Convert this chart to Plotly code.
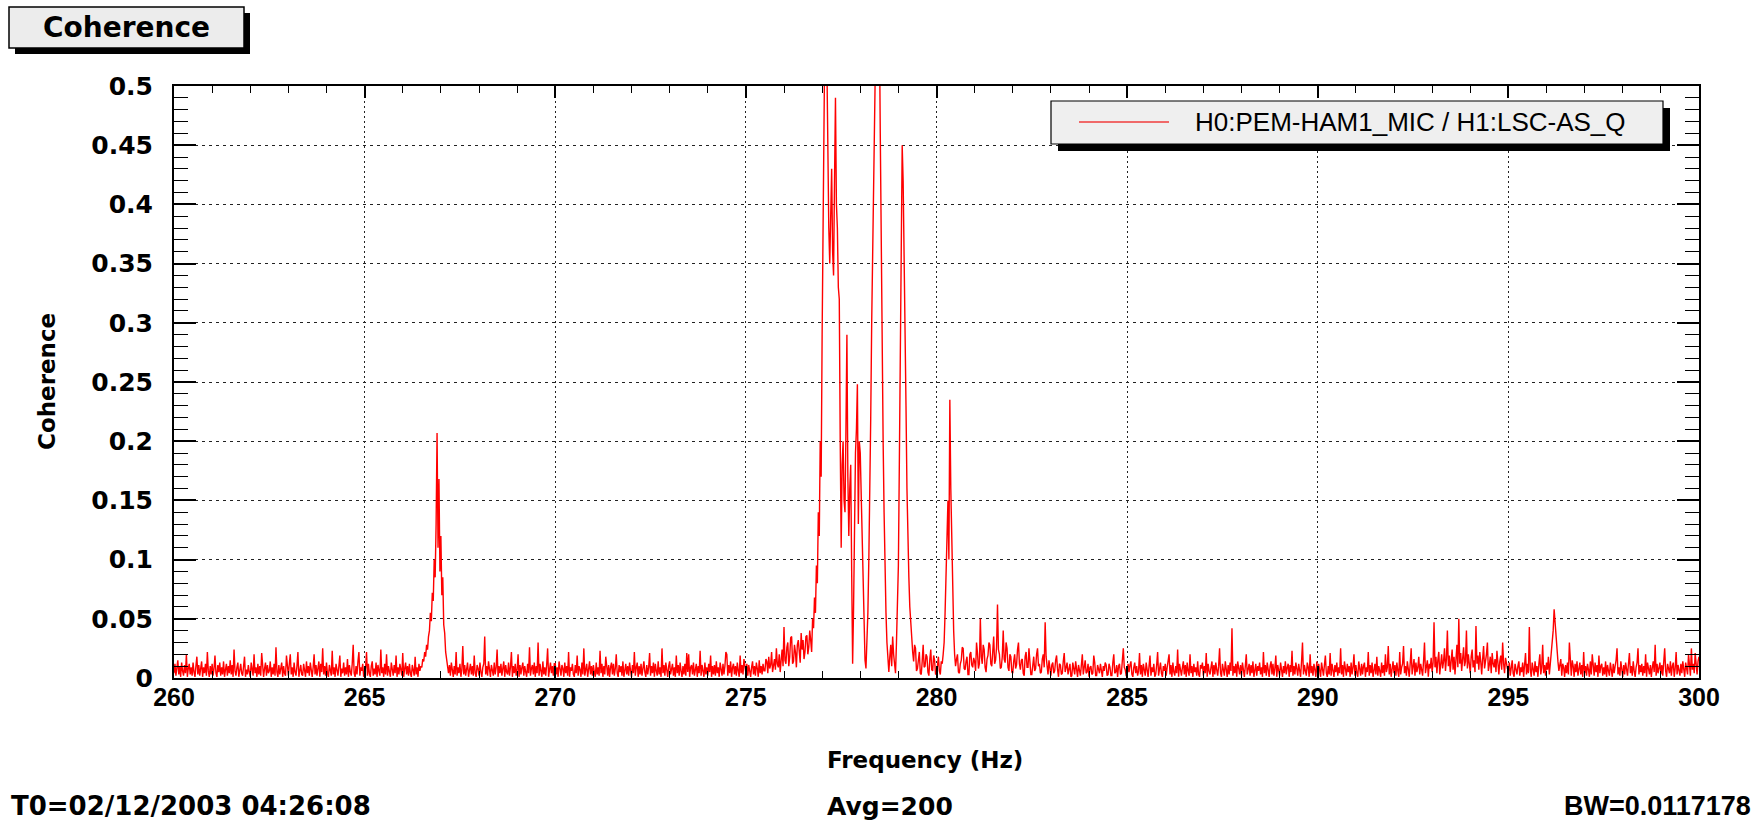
import numpy as np
import plotly.graph_objects as go

# ---- data -----------------------------------------------------------------
CHANNEL = "H0:PEM-HAM1_MIC / H1:LSC-AS_Q"
F_START = 260.0   # Hz, first frequency bin
F_STEP = 0.025    # Hz between bins

# Coherence per 5 Hz block, in units of 1e-3 (one value per 0.025 Hz bin,
# ten bins = 0.25 Hz per row)
coh_260_265 = [
    4, 12, 2, 9, 15, 3, 10, 1, 13, 6,
    2, 11, 4, 20, 1, 8, 12, 3, 9, 2,
    13, 5, 1, 10, 18, 3, 11, 2, 7, 14,
    1, 9, 4, 12, 2, 22, 6, 1, 10, 3,
    12, 2, 8, 19, 4, 1, 11, 5, 13, 2,
    9, 3, 14, 1, 7, 12, 2, 10, 4, 15,
    3, 11, 1, 24, 6, 2, 9, 13, 1, 8,
    12, 4, 2, 10, 18, 1, 7, 3, 11, 5,
    1, 13, 6, 2, 20, 4, 9, 1, 12, 3,
    10, 2, 21, 5, 1, 8, 13, 2, 11, 4,
    6, 14, 1, 9, 3, 12, 2, 26, 5, 1,
    11, 3, 8, 13, 1, 10, 4, 2, 19, 6,
    2, 12, 20, 3, 9, 1, 13, 5, 2, 10,
    22, 1, 7, 11, 3, 2, 12, 8, 1, 14,
    4, 10, 2, 13, 6, 1, 9, 20, 3, 11,
    2, 8, 14, 1, 12, 5, 25, 3, 10, 2,
    13, 4, 1, 11, 7, 2, 23, 3, 9, 1,
    12, 6, 2, 10, 19, 1, 8, 4, 13, 2,
    9, 3, 16, 1, 11, 5, 2, 12, 28, 4,
    1, 10, 3, 14, 22, 2, 9, 6, 12, 1,
]
coh_265_270 = [
    3, 9, 22, 2, 12, 4, 1, 10, 14, 2,
    8, 3, 13, 1, 11, 6, 2, 24, 4, 9,
    1, 12, 3, 20, 2, 10, 5, 1, 13, 7,
    2, 11, 4, 19, 1, 9, 3, 12, 6, 2,
    21, 1, 8, 13, 3, 10, 2, 12, 4, 1,
    11, 5, 2, 18, 3, 9, 1, 12, 6, 10,
    9, 16, 14, 22, 18, 28, 24, 35, 40, 55,
    48, 72, 65, 100, 85, 130, 207, 110, 168, 90,
    120, 70, 85, 45, 38, 22, 15, 8, 4, 11,
    2, 13, 5, 1, 10, 3, 22, 2, 9, 4,
    12, 1, 7, 27, 3, 11, 2, 9, 13, 1,
    6, 12, 3, 10, 2, 19, 4, 1, 11, 8,
    2, 13, 5, 1, 9, 12, 35, 3, 10, 2,
    14, 4, 1, 11, 6, 2, 13, 3, 9, 24,
    1, 10, 4, 12, 2, 8, 14, 1, 11, 5,
    3, 13, 2, 9, 22, 1, 10, 4, 12, 2,
    7, 20, 1, 11, 3, 9, 13, 2, 10, 5,
    1, 12, 4, 26, 2, 8, 11, 3, 13, 1,
    10, 4, 30, 2, 12, 6, 1, 14, 3, 9,
    2, 11, 25, 1, 8, 13, 4, 10, 2, 12,
]
coh_270_275 = [
    12, 3, 9, 1, 14, 5, 2, 11, 8, 1,
    13, 4, 10, 2, 22, 1, 9, 6, 12, 3,
    1, 11, 4, 19, 2, 10, 7, 1, 13, 3,
    25, 2, 9, 12, 1, 8, 14, 3, 10, 2,
    11, 5, 1, 13, 3, 9, 2, 23, 4, 12,
    1, 10, 3, 18, 6, 2, 11, 1, 9, 13,
    3, 12, 2, 8, 20, 4, 1, 11, 5, 10,
    2, 14, 1, 9, 12, 3, 10, 2, 13, 6,
    1, 11, 4, 22, 2, 9, 13, 1, 10, 3,
    12, 2, 8, 14, 5, 1, 11, 3, 9, 21,
    2, 10, 4, 13, 1, 12, 6, 2, 14, 3,
    9, 1, 25, 4, 11, 2, 13, 5, 1, 10,
    14, 3, 8, 12, 2, 9, 1, 19, 4, 11,
    2, 13, 6, 1, 10, 3, 12, 2, 21, 5,
    20, 1, 9, 11, 3, 13, 2, 8, 12, 1,
    10, 4, 23, 2, 11, 6, 1, 13, 3, 9,
    2, 12, 5, 19, 1, 10, 3, 11, 2, 14,
    4, 9, 1, 13, 7, 2, 12, 3, 10, 22,
    20, 2, 11, 4, 14, 1, 9, 12, 3, 10,
    2, 13, 6, 1, 19, 4, 11, 3, 16, 8,
]
coh_275_280 = [
    4, 12, 2, 11, 5, 1, 9, 14, 3, 10,
    2, 13, 8, 1, 15, 4, 10, 3, 12, 6,
    6, 16, 14, 4, 18, 8, 11, 22, 5, 14,
    16, 7, 25, 12, 9, 20, 5, 15, 24, 10,
    43, 15, 12, 26, 30, 10, 18, 34, 35, 12,
    14, 28, 22, 9, 28, 32, 20, 13, 38, 24,
    32, 16, 22, 35, 36, 20, 26, 40, 32, 22,
    50, 42, 68, 55, 95, 80, 140, 120, 200, 170,
    290, 450, 620, 560, 650, 520, 420, 380, 350, 410,
    430, 360, 340, 420, 490, 400, 380, 330, 320, 200,
    110, 180, 200, 150, 140, 210, 290, 170, 120, 160,
    180, 90, 12, 60, 150, 190, 210, 248, 130, 200,
    190, 150, 120, 70, 40, 15, 8, 25, 55, 100,
    150, 220, 300, 370, 440, 520, 580, 620, 640, 610,
    560, 460, 360, 280, 200, 140, 90, 55, 30, 12,
    5, 18, 28, 10, 35, 20, 12, 4, 30, 55,
    95, 180, 280, 380, 450, 420, 370, 300, 230, 160,
    110, 85, 60, 45, 30, 22, 14, 28, 25, 6,
    8, 18, 22, 4, 3, 14, 28, 9, 10, 20,
    18, 5, 2, 16, 24, 7, 6, 19, 15, 3,
]
coh_280_285 = [
    4, 10, 18, 6, 3, 14, 12, 20, 30, 55,
    90, 120, 150, 100, 235, 160, 110, 70, 40, 20,
    10, 16, 20, 5, 4, 12, 15, 26, 25, 8,
    7, 14, 18, 3, 3, 20, 22, 11, 9, 17,
    14, 6, 30, 21, 8, 12, 50, 18, 12, 28,
    24, 9, 5, 16, 19, 30, 28, 12, 10, 22,
    35, 12, 15, 26, 62, 24, 20, 8, 9, 18,
    40, 16, 13, 30, 25, 9, 6, 20, 18, 5,
    4, 14, 20, 8, 11, 24, 30, 12, 7, 15,
    16, 4, 2, 18, 22, 9, 9, 25, 14, 3,
    3, 12, 18, 6, 8, 20, 25, 10, 12, 4,
    5, 16, 20, 9, 47, 18, 10, 3, 15, 8,
    2, 11, 13, 4, 6, 15, 19, 7, 1, 12,
    11, 3, 4, 14, 21, 5, 8, 13, 3, 10,
    12, 1, 2, 13, 9, 3, 14, 6, 1, 11,
    7, 2, 11, 20, 3, 8, 15, 4, 5, 12,
    1, 9, 10, 3, 4, 19, 13, 2, 2, 11,
    8, 4, 12, 6, 1, 10, 6, 13, 11, 2,
    3, 12, 9, 2, 2, 13, 20, 4, 5, 11,
    1, 10, 12, 3, 4, 15, 25, 9, 7, 2,
]
coh_285_290 = [
    2, 12, 5, 11, 14, 3, 1, 9, 13, 4,
    10, 2, 6, 21, 3, 11, 1, 12, 7, 2,
    13, 4, 1, 10, 19, 2, 9, 5, 12, 1,
    3, 11, 22, 2, 8, 13, 4, 1, 10, 6,
    12, 2, 9, 14, 20, 3, 11, 1, 13, 5,
    2, 10, 4, 24, 1, 12, 7, 2, 9, 14,
    3, 11, 1, 13, 6, 2, 20, 4, 10, 1,
    12, 5, 9, 2, 14, 3, 1, 11, 8, 13,
    2, 10, 4, 21, 1, 12, 6, 3, 9, 14,
    1, 11, 3, 13, 7, 2, 10, 25, 4, 1,
    12, 5, 2, 14, 9, 1, 11, 3, 13, 6,
    42, 2, 10, 4, 12, 1, 14, 8, 3, 11,
    2, 13, 5, 1, 10, 20, 3, 9, 12, 2,
    11, 4, 14, 1, 8, 12, 2, 10, 6, 13,
    3, 9, 1, 22, 4, 11, 2, 13, 7, 1,
    10, 14, 3, 12, 2, 8, 19, 1, 11, 5,
    2, 13, 6, 1, 10, 4, 14, 3, 9, 12,
    1, 11, 5, 23, 2, 10, 3, 13, 8, 2,
    12, 4, 1, 14, 30, 3, 11, 6, 2, 13,
    9, 1, 20, 4, 10, 2, 12, 7, 1, 14,
]
coh_290_295 = [
    3, 12, 6, 1, 13, 9, 2, 11, 19, 4,
    1, 10, 3, 21, 2, 12, 8, 1, 11, 5,
    13, 2, 9, 4, 25, 3, 11, 1, 14, 6,
    2, 12, 5, 10, 1, 13, 3, 9, 20, 2,
    11, 4, 1, 14, 7, 2, 12, 3, 10, 13,
    1, 9, 5, 22, 2, 11, 4, 13, 1, 8,
    12, 3, 18, 2, 10, 6, 1, 13, 4, 11,
    2, 20, 5, 9, 27, 3, 12, 1, 10, 14,
    4, 11, 2, 13, 6, 1, 22, 3, 9, 12,
    27, 4, 10, 2, 14, 7, 1, 12, 25, 3,
    11, 16, 2, 13, 5, 9, 18, 3, 12, 6,
    2, 14, 30, 4, 10, 15, 1, 12, 8, 17,
    5, 13, 47, 9, 18, 4, 15, 22, 3, 12,
    20, 8, 14, 25, 6, 16, 40, 10, 19, 5,
    13, 24, 7, 18, 3, 15, 28, 9, 50, 12,
    21, 6, 17, 26, 10, 14, 40, 8, 20, 13,
    4, 18, 24, 9, 15, 5, 44, 12, 19, 7,
    22, 14, 3, 16, 27, 8, 13, 20, 30, 6,
    11, 18, 4, 21, 12, 9, 16, 5, 23, 10,
    3, 14, 19, 7, 30, 12, 4, 17, 11, 8,
]
coh_295_300 = [
    6, 13, 2, 11, 15, 4, 1, 12, 8, 3,
    10, 14, 2, 9, 5, 13, 1, 11, 21, 3,
    12, 4, 43, 7, 1, 13, 9, 2, 14, 5,
    10, 1, 12, 20, 3, 9, 28, 4, 11, 2,
    13, 7, 18, 3, 12, 22, 30, 40, 58, 45,
    35, 20, 14, 6, 10, 16, 2, 12, 9, 1,
    11, 4, 13, 3, 30, 8, 2, 15, 10, 1,
    12, 5, 14, 2, 9, 13, 3, 11, 1, 22,
    4, 10, 2, 12, 7, 1, 14, 3, 20, 9,
    2, 13, 5, 11, 1, 19, 4, 10, 12, 2,
    9, 3, 14, 1, 11, 6, 2, 13, 8, 1,
    12, 4, 10, 15, 25, 3, 9, 2, 14, 5,
    1, 11, 3, 13, 7, 2, 12, 21, 4, 10,
    2, 14, 6, 1, 9, 13, 25, 3, 11, 5,
    12, 2, 10, 4, 20, 1, 13, 8, 3, 11,
    1, 9, 14, 5, 28, 2, 12, 4, 10, 13,
    3, 11, 2, 15, 25, 6, 1, 12, 9, 4,
    14, 2, 10, 13, 1, 8, 22, 3, 11, 5,
    2, 12, 4, 14, 9, 1, 13, 6, 3, 20,
    10, 2, 25, 7, 12, 4, 21, 11, 3, 14,
    18,
]

x_ticks = [260, 265, 270, 275, 280, 285, 290, 295, 300]
y_ticks = [0, 0.05, 0.1, 0.15, 0.2, 0.25, 0.3, 0.35, 0.4, 0.45, 0.5]

coherence = np.concatenate([
    coh_260_265, coh_265_270, coh_270_275, coh_275_280,
    coh_280_285, coh_285_290, coh_290_295, coh_295_300,
]) / 1000.0
assert coherence.size == 1601, coherence.size
freq = F_START + F_STEP * np.arange(coherence.size)

# ---- page geometry (pixels) -----------------------------------------------
W, H = 1762, 828
PL, PR, PT, PB = 174, 1699, 86, 678
PW, PH = PR - PL, PB - PT


def px(x):
    return (x - PL) / PW


def py(y):
    return (PB - y) / PH


HELV = "Liberation Sans, Arial, Helvetica, sans-serif"
WIDE = "DejaVu Sans, Verdana, sans-serif"


def bold(family, size):
    return dict(family=family, size=size, color="black", weight="bold")


fig = go.Figure()
fig.add_trace(go.Scatter(
    x=freq, y=coherence, mode="lines", name=CHANNEL,
    line=dict(color="#ff0000", width=1.4), showlegend=False,
))

axis_common = dict(
    ticks="inside", tickcolor="black", tickwidth=1.5,
    showline=True, linecolor="black", linewidth=2, mirror="allticks",
    showgrid=True, gridcolor="#222222", gridwidth=1, zeroline=False,
)
fig.update_xaxes(
    range=[260, 300], tickvals=x_ticks, ticklen=12,
    griddash="2px,3px", ticklabelstandoff=-4,
    tickfont=bold(HELV, 25),
    minor=dict(dtick=1, tick0=260, ticks="inside", ticklen=7,
               tickcolor="black", tickwidth=1, showgrid=False),
    **axis_common,
)
fig.update_yaxes(
    range=[0, 0.5], tickvals=y_ticks, ticklen=22,
    griddash="3px,4px", ticklabelstandoff=14,
    tickfont=bold(WIDE, 25),
    minor=dict(dtick=0.01, tick0=0, ticks="inside", ticklen=14,
               tickcolor="black", tickwidth=1, showgrid=False),
    **axis_common,
)

shapes = []
annotations = []

# title box with drop shadow
shapes.append(dict(type="rect", xref="paper", yref="paper",
                   x0=px(15), x1=px(250), y0=py(13), y1=py(54),
                   fillcolor="black", line=dict(width=0), layer="above"))
shapes.append(dict(type="rect", xref="paper", yref="paper",
                   x0=px(9), x1=px(244), y0=py(7), y1=py(48),
                   fillcolor="#ececec", line=dict(color="black", width=1.5),
                   layer="above"))
annotations.append(dict(text="Coherence", xref="paper", yref="paper",
                        x=px(126), y=py(28), xanchor="center", yanchor="middle",
                        showarrow=False, font=bold(WIDE, 28)))

# legend box with drop shadow
shapes.append(dict(type="rect", xref="paper", yref="paper",
                   x0=px(1058), x1=px(1670), y0=py(108), y1=py(151),
                   fillcolor="black", line=dict(width=0), layer="above"))
shapes.append(dict(type="rect", xref="paper", yref="paper",
                   x0=px(1051), x1=px(1663), y0=py(101), y1=py(144),
                   fillcolor="#efefef", line=dict(color="black", width=1.2),
                   layer="above"))
shapes.append(dict(type="line", xref="paper", yref="paper",
                   x0=px(1079), x1=px(1169), y0=py(122), y1=py(122),
                   line=dict(color="#f03c3c", width=1.5), layer="above"))
annotations.append(dict(text=CHANNEL, xref="paper", yref="paper",
                        x=px(1193), y=py(122), xanchor="left", yanchor="middle",
                        showarrow=False,
                        font=dict(family=HELV, size=26, color="black")))

# axis titles
annotations.append(dict(text="Frequency (Hz)", xref="paper", yref="paper",
                        x=px(925), y=py(760), xanchor="center", yanchor="middle",
                        showarrow=False, font=bold(WIDE, 23)))
annotations.append(dict(text="Coherence", xref="paper", yref="paper",
                        x=px(47), y=py(382), xanchor="center", yanchor="middle",
                        textangle=-90, showarrow=False, font=bold(WIDE, 23)))

# footer: start time, averages, bandwidth
annotations.append(dict(text="T0=02/12/2003 04:26:08", xref="paper", yref="paper",
                        x=px(9), y=py(806), xanchor="left", yanchor="middle",
                        showarrow=False, font=bold(WIDE, 26)))
annotations.append(dict(text="Avg=200", xref="paper", yref="paper",
                        x=px(890), y=py(806), xanchor="center", yanchor="middle",
                        showarrow=False, font=bold(WIDE, 25)))
annotations.append(dict(text="BW=0.0117178", xref="paper", yref="paper",
                        x=px(1753), y=py(806), xanchor="right", yanchor="middle",
                        showarrow=False, font=bold(HELV, 27)))

fig.update_layout(
    width=W, height=H,
    margin=dict(l=PL, r=W - PR, t=PT, b=H - PB),
    paper_bgcolor="white", plot_bgcolor="white",
    font=dict(family=HELV, color="black"),
    shapes=shapes, annotations=annotations,
    showlegend=False,
)

fig.write_html("out.html")
